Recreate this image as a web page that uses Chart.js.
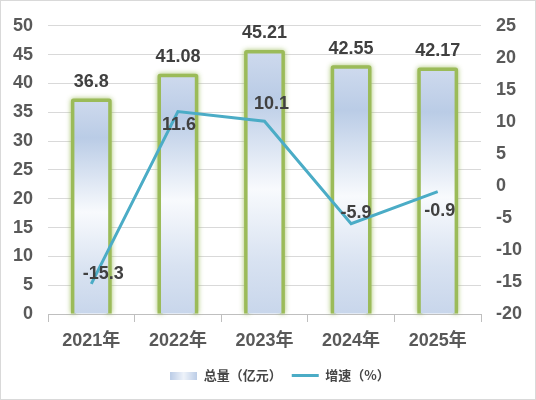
<!DOCTYPE html>
<html>
<head>
<meta charset="utf-8">
<script src="https://cdn.jsdelivr.net/npm/chart.js@4/dist/chart.umd.min.js"></script>
<style>
  html,body{margin:0;padding:0;background:#fff;}
  canvas{display:block;}
</style>
</head>
<body>
<canvas id="c" width="536" height="400"></canvas>
<script>
const categories = ['2021年','2022年','2023年','2024年','2025年'];
const totals = [36.8, 41.08, 45.21, 42.55, 42.17];
const growth = [-15.3, 11.6, 10.1, -5.9, -0.9];
const seriesNames = ['总量（亿元）','增速（%）'];

// label nudges for the growth line (px), like the hand-placed labels in the original
const lineLabelShift = [[12,-10],[1,13],[7,-17],[5,-11],[2,19]];

const FONT = '"Liberation Sans", "Noto Sans CJK SC", sans-serif';
const CJK_FONT = '"Noto Sans CJK SC", "Liberation Sans", sans-serif';
const TXT = '#404040';
const AXIS_TXT = '#595959';
const GREEN = '#9bbb59';
const BLUE_LINE = '#4bacc6';

function barGradient(ctx, top, bottom){
  const g = ctx.createLinearGradient(0, top, 0, bottom);
  g.addColorStop(0, '#cdd9ed');
  g.addColorStop(0.17, '#bacce6');
  g.addColorStop(0.52, '#f8fafd');
  g.addColorStop(0.8, '#d8e2f1');
  g.addColorStop(1, '#c8d6eb');
  return g;
}

// little gradient swatch for the legend
const legendBox = document.createElement('canvas');
legendBox.width = 27; legendBox.height = 8;
(function(){
  const c = legendBox.getContext('2d');
  const g = c.createLinearGradient(0,0,27,0);
  g.addColorStop(0,'#bccde7'); g.addColorStop(0.5,'#eef3fa'); g.addColorStop(1,'#bccde7');
  c.fillStyle = g; c.fillRect(0,0,27,8);
})();

// green glowing frame drawn under the bar fill, so only the outside shows
const barFrame = {
  id:'barFrame',
  beforeDatasetDraw(chart, args){
    if(args.index !== 0) return;
    const ctx = chart.ctx;
    args.meta.data.forEach(bar=>{
      const l = bar.x - bar.width/2, r = bar.x + bar.width/2;
      const t = bar.y, b = bar.base;
      ctx.save();
      ctx.lineJoin = 'round';
      ctx.shadowColor = 'rgba(155,187,89,0.9)';
      ctx.shadowBlur = 5;
      ctx.strokeStyle = GREEN;
      ctx.lineWidth = 5;
      ctx.beginPath();
      ctx.moveTo(l-1, b); ctx.lineTo(l-1, t-1); ctx.lineTo(r+1, t-1); ctx.lineTo(r+1, b);
      ctx.stroke();
      ctx.restore();
    });
  }
};

const valueLabels = {
  id:'valueLabels',
  afterDatasetsDraw(chart){
    const ctx = chart.ctx;
    ctx.save();
    ctx.font = 'bold 18px ' + FONT;
    ctx.fillStyle = TXT;
    ctx.textAlign = 'center';
    ctx.textBaseline = 'middle';
    chart.getDatasetMeta(0).data.forEach((bar,i)=>{
      ctx.fillText(String(totals[i]), bar.x, bar.y - 20);
    });
    chart.getDatasetMeta(1).data.forEach((pt,i)=>{
      const s = lineLabelShift[i];
      ctx.fillText(String(growth[i]), pt.x + s[0], pt.y + s[1]);
    });
    ctx.restore();
  }
};

// the original legend sits a little right of centre
const legendNudge = {
  id:'legendNudge',
  afterLayout(chart){
    if(chart.legend){ chart.legend.left += 12; chart.legend.right += 12; }
  }
};

const frame = {
  id:'frame',
  afterDraw(chart){
    const ctx = chart.ctx;
    ctx.save();
    ctx.strokeStyle = '#d9d9d9';
    ctx.lineWidth = 1;
    ctx.strokeRect(0.5, 0.5, chart.width-1, chart.height-1);
    ctx.restore();
  }
};

new Chart(document.getElementById('c'), {
  data:{
    labels: categories,
    datasets:[
      {
        type:'bar',
        label: seriesNames[0],
        data: totals,
        yAxisID:'y',
        order:1,
        categoryPercentage:1,
        barPercentage:0.39,
        borderWidth:0,
        pointStyle: legendBox,
        backgroundColor(c){
          const chart = c.chart;
          if(!chart.chartArea || c.type !== 'data') return '#c9d7ec';
          const ys = chart.scales.y;
          return barGradient(chart.ctx, ys.getPixelForValue(c.raw), ys.getPixelForValue(0));
        }
      },
      {
        type:'line',
        label: seriesNames[1],
        data: growth,
        yAxisID:'y1',
        order:0,
        borderColor: BLUE_LINE,
        borderWidth:3,
        tension:0,
        pointRadius:0,
        pointHoverRadius:0,
        pointStyle:'line',
        pointBorderColor: BLUE_LINE,
        pointBorderWidth:3
      }
    ]
  },
  options:{
    responsive:false,
    animation:false,
    layout:{padding:{top:20, bottom:8, left:0, right:0}},
    plugins:{
      legend:{
        position:'bottom',
        labels:{
          usePointStyle:true,
          pointStyleWidth:27,
          color: '#474747',
          font:{size:13, weight:'bold', family: CJK_FONT},
          padding:10,
          sort:(a,b)=>a.datasetIndex-b.datasetIndex
        }
      },
      tooltip:{enabled:false}
    },
    scales:{
      x:{
        offset:true,
        grid:{drawOnChartArea:false, drawTicks:true, tickLength:8, color:'#bfbfbf', offset:true},
        border:{display:true, color:'#bfbfbf'},
        ticks:{color: AXIS_TXT, font:{size:18, weight:'bold', family: FONT}, padding:8},
        afterFit(s){ s.height = 45; }
      },
      y:{
        position:'left',
        min:0, max:50,
        ticks:{stepSize:5, color: AXIS_TXT, font:{size:18, weight:'bold', family: FONT}, padding:15},
        grid:{color:'#d9d9d9', drawTicks:false},
        border:{display:false},
        afterFit(s){ s.width = 48; }
      },
      y1:{
        position:'right',
        min:-20, max:25,
        ticks:{stepSize:5, color: AXIS_TXT, font:{size:18, weight:'bold', family: FONT}, padding:15},
        grid:{drawOnChartArea:false, drawTicks:false},
        border:{display:false},
        afterFit(s){ s.width = 55; }
      }
    }
  },
  plugins:[barFrame, valueLabels, legendNudge, frame]
});
</script>
</body>
</html>
